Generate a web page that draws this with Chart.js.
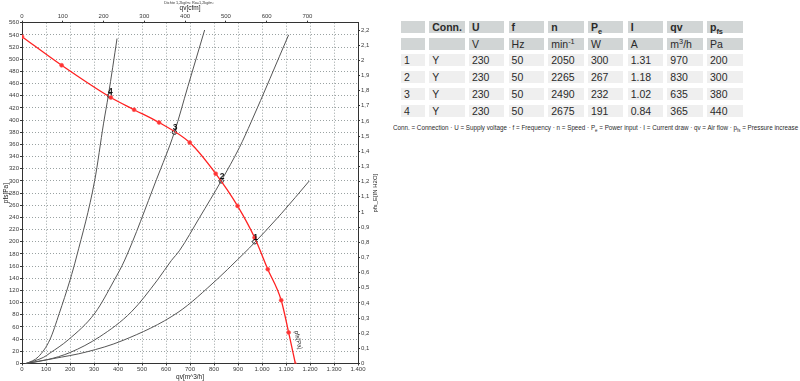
<!DOCTYPE html>
<html><head><meta charset="utf-8">
<script src="https://cdn.jsdelivr.net/npm/chart.js@4/dist/chart.umd.min.js"></script>
<style>
html,body{margin:0;padding:0;background:#fff;width:800px;height:381px;overflow:hidden;}
#c{position:absolute;left:0;top:0;}
#tbl{position:absolute;left:401px;top:20.7px;display:grid;grid-template-columns:24px repeat(8,35.5px);column-gap:4.2px;row-gap:4.86px;grid-auto-rows:12px;font-family:'Liberation Sans Narrow','Liberation Sans',Arial,sans-serif;font-size:10.5px;color:#2a2a2a;}
.cell{background:#efefef;padding-left:3px;line-height:12px;white-space:nowrap;overflow:visible;}
.h{background:#d1d5d5;}
.b{font-weight:bold;}
sub,sup{font-size:70%;line-height:0;}
#foot{position:absolute;left:393px;top:123.5px;white-space:nowrap;font-family:'Liberation Sans Narrow','Liberation Sans',Arial,sans-serif;font-size:6.5px;line-height:7px;color:#2a2a2a;transform-origin:0 0;}
</style></head>
<body>
<canvas id="c" width="392" height="381"></canvas>
<div id="tbl"></div>
<div id="foot"></div>
<script>
// ---- chart data ----
const qvTickLabels = [0,100,200,300,400,500,600,700,800,900,1000,1100,1200,1300,1400];
const curve1Qv = [15,130,269,421,650,812,899,948,1080,1197];
const curve1P  = [0,8,19,38,84,138,171,190,246,300];
const curve2Qv = [15,103,200,324,456,564,622,657,740,830,906,955,1111];
const curve2P  = [0,6,18,44,85,137,169,186,240,300,355,397,540];
const curve3Qv = [15,89,116,193,304,383,428,560,635,691,761];
const curve3P  = [0,10,17,39,83,136,170,302,380,455,548];
const curve4Qv = [20,68,116,155,200,227,303,340,360,396];
const curve4P  = [0,11,39,82,137,175,301,395,441,534];
const fanQv = [0,165,370,467,571,699,807,898,969,1024,1080,1111,1139];
const fanP  = [537,490,437,417,396,363,312,259,207,155,104,51,0];
const opNames = ['1','2','3','4'];
// ---- table data ----
const conn  = ['Y','Y','Y','Y'];
const volt  = [230,230,230,230];
const freq  = [50,50,50,50];
const speed = [2050,2265,2490,2675];
const power = [300,267,232,191];
const curr  = [1.31,1.18,1.02,0.84];
const airQv = [970,830,635,365];
const press = [200,300,380,440];
const headers = ['', 'Conn.', 'U', 'f', 'n', 'P<sub>e</sub>', 'I', 'qv', 'p<sub>fs</sub>'];
const units   = ['', '', 'V', 'Hz', 'min<sup>-1</sup>', 'W', 'A', 'm<sup>3</sup>/h', 'Pa'];

const FONT = "'Liberation Sans Narrow','Liberation Sans',Arial,sans-serif";
Chart.defaults.font.family = FONT;
Chart.defaults.font.size = 6;
Chart.defaults.color = '#3a3a3a';

const xy = (q,p) => q.map((v,i)=>({x:v,y:p[i]}));
const thousands = v => String(v).replace(/\B(?=(\d{3})+(?!\d))/g,'.');
const CFM = 1.69901, INH2O = 249.089;

const grayLine = (q,p) => ({data:xy(q,p), showLine:true, borderColor:'#555', borderWidth:1, pointRadius:0, cubicInterpolationMode:'monotone', xAxisID:'x', yAxisID:'y'});

const overlay = {
  id:'overlay',
  afterDatasetsDraw(chart){
    const ctx = chart.ctx, sx = chart.scales.x, sy = chart.scales.y;
    ctx.save();
    ctx.fillStyle = '#111';
    ctx.font = "bold 8.5px 'Liberation Sans',Arial";
    ctx.textAlign = 'center';
    ctx.textBaseline = 'alphabetic';
    opNames.forEach((n,i)=>{
      const px = sx.getPixelForValue(airQv[i]), py = sy.getPixelForValue(press[i]);
      ctx.fillText(n, px+0.8, py-2.2);
    });
    // label on fan curve
    ctx.font = "6px " + FONT;
    ctx.fillStyle = '#222';
    ctx.translate(298, 340);
    ctx.rotate(78*Math.PI/180);
    ctx.textBaseline = 'middle';
    ctx.fillText('pfs[Pa]', 0, 0);
    ctx.restore();
    // right axis title
    ctx.save();
    ctx.font = "6px " + FONT;
    ctx.fillStyle = '#222';
    ctx.textAlign = 'center';
    ctx.textBaseline = 'middle';
    ctx.translate(375, (chart.chartArea.top+chart.chartArea.bottom)/2);
    ctx.rotate(-Math.PI/2);
    ctx.fillText('pfs_E[IN H2O]', 0, 0);
    ctx.restore();
    // tiny top note
    ctx.save();
    ctx.font = "3.8px " + FONT;
    ctx.fillStyle = '#333';
    ctx.textAlign = 'center';
    ctx.textBaseline = 'middle';
    ctx.fillText('Dichte 1,2kg/m³ Ro=1,2kg/m³', 189, 2.5);
    ctx.restore();
  }
};

const tickStyle = {tickLength:2, tickColor:'#333', tickBorderDash:[], tickWidth:1};
const GRID = '#9aa2a2';

new Chart(document.getElementById('c'), {
  type:'scatter',
  data:{datasets:[
    grayLine(curve1Qv,curve1P),
    grayLine(curve2Qv,curve2P),
    grayLine(curve3Qv,curve3P),
    grayLine(curve4Qv,curve4P),
    {data:xy(fanQv,fanP), showLine:true, borderColor:'#ff2222', borderWidth:1.3, cubicInterpolationMode:'monotone',
     pointRadius:2, pointBackgroundColor:'#ff3333', pointBorderColor:'#ff5555', pointBorderWidth:0.6,
     pointStyle: fanQv.map((v,i)=> i===fanQv.length-1 ? 'triangle' : 'circle'), xAxisID:'x', yAxisID:'y'},
    {data:xy(airQv,press), showLine:false, pointRadius:2.2, pointBackgroundColor:'#fff', pointBorderColor:'#111', pointBorderWidth:0.9, xAxisID:'x', yAxisID:'y'}
  ]},
  options:{
    responsive:false, animation:false, events:[],
    layout:{padding:0},
    plugins:{legend:{display:false}, tooltip:{enabled:false}},
    scales:{
      x:{type:'linear', position:'bottom', min:0, max:1400,
         afterBuildTicks: s => { s.ticks = qvTickLabels.map(v=>({value:v})); },
         afterFit: s => { s.height = 17.5; },
         ticks:{autoSkip:false, maxRotation:0, padding:0, callback:v=>thousands(v)},
         grid:Object.assign({display:true, drawOnChartArea:true, color:GRID, lineWidth:1}, tickStyle),
         border:{display:true, color:'#333', width:1, dash:[1,2]},
         title:{display:true, text:'qv[m^3/h]', font:{size:6.5}, padding:{top:0,bottom:0}, color:'#222'}},
      x2:{type:'linear', position:'top', min:0, max:1400/CFM,
         afterBuildTicks: s => { s.ticks = s.ticks.filter(t => t.value % 100 === 0 && t.value <= 800); },
         afterFit: s => { s.height = 22.7; },
         ticks:{autoSkip:false, maxRotation:0, padding:1, stepSize:100},
         grid:Object.assign({drawOnChartArea:false}, tickStyle),
         border:{display:true, color:'#333', width:1},
         title:{display:true, text:'qv[cfm]', font:{size:6.5}, padding:{top:4.5,bottom:0}, color:'#222'}},
      y:{type:'linear', position:'left', min:0, max:560,
         afterFit: s => { s.width = 22; },
         ticks:{autoSkip:false, stepSize:20, padding:1},
         grid:Object.assign({display:true, drawOnChartArea:true, color:GRID, lineWidth:1}, tickStyle),
         border:{display:true, color:'#333', width:1, dash:[1,2]},
         title:{display:true, text:'pfs[Pa]', font:{size:6.5}, padding:{top:2,bottom:0}, color:'#222'}},
      y2:{type:'linear', position:'right', min:0, max:560/INH2O,
         afterBuildTicks: s => { s.ticks = s.ticks.filter(t => Math.abs(t.value*10 - Math.round(t.value*10)) < 1e-6 && t.value <= 2.2001); },
         afterFit: s => { s.width = 34; },
         ticks:{autoSkip:false, stepSize:0.1, padding:1, callback:v=>String(Math.round(v*10)/10).replace('.',',')},
         grid:Object.assign({drawOnChartArea:false}, tickStyle),
         border:{display:true, color:'#333', width:1}}
    }
  },
  plugins:[overlay]
});

// ---- table ----
const tbl = document.getElementById('tbl');
function addCell(html, cls){ const d=document.createElement('div'); d.className='cell '+(cls||''); d.innerHTML=html; tbl.appendChild(d); }
headers.forEach(h=>addCell(h,'h b'));
units.forEach(u=>addCell(u,'h'));
for(let i=0;i<4;i++){
  [opNames[i], conn[i], volt[i], freq[i], speed[i], power[i], curr[i].toFixed(2), airQv[i], press[i]].forEach(v=>addCell(String(v)));
}
const foot = document.getElementById('foot');
foot.innerHTML = 'Conn. = Connection · U = Supply voltage · f = Frequency · n = Speed · P<sub>e</sub> = Power input · I = Current draw · qv = Air flow · p<sub>fs</sub> = Pressure increase';
const fw = foot.scrollWidth;
foot.style.transform = 'scaleX(' + (405/fw) + ')';
</script>
</body></html>
